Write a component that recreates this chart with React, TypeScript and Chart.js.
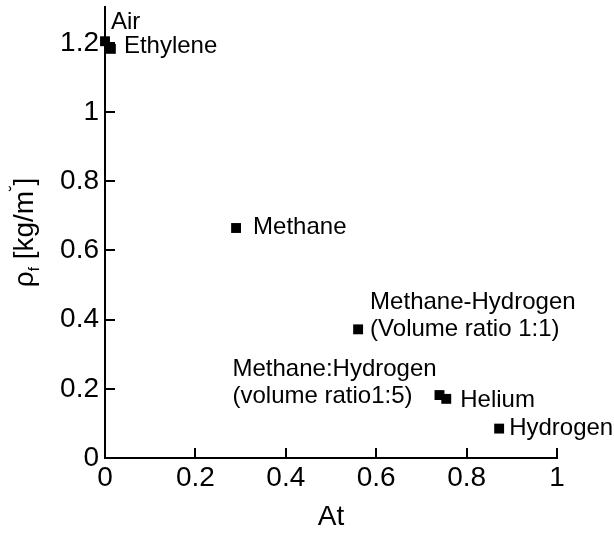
import React, { useEffect, useRef } from "react";
import { Chart, registerables } from "chart.js";

Chart.register(...registerables);

// Gas name, Atwood number and density for each measured gas
const gases = ["Air", "Ethylene", "Methane", "Methane-Hydrogen", "Methane:Hydrogen", "Helium", "Hydrogen"];
const atwood = [0.0, 0.013, 0.29, 0.56, 0.74, 0.755, 0.872];
const density = [1.205, 1.183, 0.665, 0.372, 0.182, 0.171, 0.085];

const xTickValues = [0, 0.2, 0.4, 0.6, 0.8, 1];
const yTickValues = [0, 0.2, 0.4, 0.6, 0.8, 1, 1.2];

// Text drawn beside each point (one entry per line)
const pointLabels = [
  ["Air"],
  ["Ethylene"],
  ["Methane"],
  ["Methane-Hydrogen", "(Volume ratio 1:1)"],
  ["Methane:Hydrogen", "(volume ratio1:5)"],
  ["Helium"],
  ["Hydrogen"],
];
// Pixel offset of the first text line from its point
const labelOffsets = [
  [6, -19],
  [13, -2],
  [17, -1],
  [12, -27],
  [-207, -26],
  [14, 2],
  [10, 0],
];

const FONT = "'Liberation Sans', Arial, sans-serif";
const TICK_SIZE = 28;
const LABEL_SIZE = 24;
const LINE_GAP = 27;
const TICK_LEN = 10;

const fmt = (v: number) => String(Number(v.toFixed(1)));

const innerTicks = {
  id: "innerTicks",
  afterDraw(chart: any) {
    const { ctx, chartArea, scales } = chart;
    ctx.save();
    ctx.strokeStyle = "#000";
    ctx.lineWidth = 2;
    ctx.beginPath();
    for (const v of xTickValues) {
      const px = Math.round(scales.x.getPixelForValue(v));
      ctx.moveTo(px, chartArea.bottom);
      ctx.lineTo(px, chartArea.bottom - TICK_LEN);
    }
    for (const v of yTickValues) {
      const py = Math.round(scales.y.getPixelForValue(v));
      ctx.moveTo(chartArea.left, py);
      ctx.lineTo(chartArea.left + TICK_LEN, py);
    }
    ctx.stroke();
    ctx.restore();
  },
};

const gasLabels = {
  id: "gasLabels",
  afterDatasetsDraw(chart: any) {
    const { ctx, scales } = chart;
    ctx.save();
    ctx.fillStyle = "#000";
    ctx.font = `${LABEL_SIZE}px ${FONT}`;
    ctx.textAlign = "left";
    ctx.textBaseline = "middle";
    pointLabels.forEach((lines, i) => {
      const px = scales.x.getPixelForValue(atwood[i]);
      const py = scales.y.getPixelForValue(density[i]);
      const [dx, dy] = labelOffsets[i];
      lines.forEach((t, j) => ctx.fillText(t, px + dx, py + dy + j * LINE_GAP));
    });
    ctx.restore();
  },
};

// Rotated y-axis title with subscript and superscript parts
const yTitle = {
  id: "yTitle",
  afterDraw(chart: any) {
    const { ctx, chartArea } = chart;
    const parts = [
      { t: "ρ", size: 28, shift: 0 },
      { t: "f", size: 15, shift: 6 },
      { t: " [kg/m", size: 28, shift: 0 },
      { t: "˘", size: 16, shift: -12 },
      { t: "]", size: 28, shift: 0 },
    ];
    ctx.save();
    ctx.fillStyle = "#000";
    ctx.textBaseline = "alphabetic";
    ctx.textAlign = "left";
    let total = 0;
    for (const p of parts) {
      ctx.font = `${p.size}px ${FONT}`;
      total += ctx.measureText(p.t).width;
    }
    const cy = (chartArea.top + chartArea.bottom) / 2;
    ctx.translate(33, cy);
    ctx.rotate(-Math.PI / 2);
    let x = -total / 2;
    for (const p of parts) {
      ctx.font = `${p.size}px ${FONT}`;
      ctx.fillText(p.t, x, p.shift);
      x += ctx.measureText(p.t).width;
    }
    ctx.restore();
  },
};

export default function App() {
  const ref = useRef<HTMLCanvasElement | null>(null);

  useEffect(() => {
    if (!ref.current) return;
    const chart = new Chart(ref.current, {
      type: "scatter",
      data: {
        datasets: [
          {
            label: "gases",
            data: gases.map((_, i) => ({ x: atwood[i], y: density[i] })),
            pointStyle: "rect",
            pointRadius: 7,
            pointHoverRadius: 7,
            backgroundColor: "#000",
            borderColor: "#000",
            borderWidth: 0,
            clip: false,
          } as any,
        ],
      },
      options: {
        responsive: false,
        animation: false,
        layout: { padding: { left: 0, right: 57, top: 6, bottom: 0 } },
        plugins: {
          legend: { display: false },
          tooltip: { enabled: false },
        },
        scales: {
          x: {
            type: "linear",
            min: 0,
            max: 1,
            afterBuildTicks: (s: any) => {
              s.ticks = xTickValues.map((v) => ({ value: v }));
            },
            afterFit: (s: any) => {
              s.height = 76;
              s.paddingLeft = 0;
              s.paddingRight = 0;
            },
            grid: { display: false, drawTicks: false },
            border: { display: true, color: "#000", width: 2 },
            ticks: {
              color: "#000",
              font: { family: FONT, size: TICK_SIZE },
              padding: 3,
              maxRotation: 0,
              autoSkip: false,
              callback: (v: any) => fmt(Number(v)),
            },
            title: {
              display: true,
              text: "At",
              color: "#000",
              font: { family: FONT, size: TICK_SIZE },
              padding: { top: 0, bottom: 0 },
            },
          },
          y: {
            type: "linear",
            min: 0,
            max: 1.304,
            afterBuildTicks: (s: any) => {
              s.ticks = yTickValues.map((v) => ({ value: v }));
            },
            afterFit: (s: any) => {
              s.width = 105;
              s.paddingTop = 0;
              s.paddingBottom = 0;
            },
            grid: { display: false, drawTicks: false },
            border: { display: true, color: "#000", width: 2 },
            ticks: {
              color: "#000",
              font: { family: FONT, size: TICK_SIZE },
              padding: 6,
              autoSkip: false,
              callback: (v: any) => fmt(Number(v)),
            },
          },
        },
      },
      plugins: [innerTicks, gasLabels, yTitle],
    });
    return () => chart.destroy();
  }, []);

  return (
    <div style={{ position: "fixed", left: 0, top: 0, width: 614, height: 534, background: "#fff" }}>
      <canvas ref={ref} width={614} height={534} />
    </div>
  );
}
